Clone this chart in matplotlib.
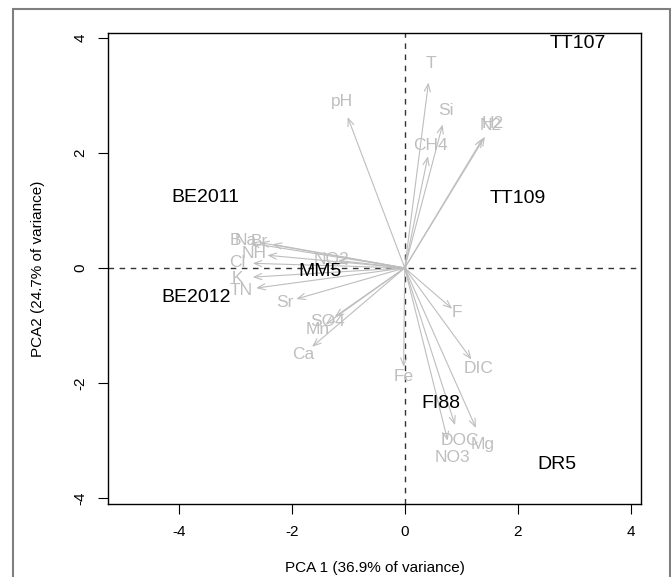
import matplotlib.pyplot as plt
from matplotlib.patches import Rectangle

plt.rcParams['font.family'] = ['Liberation Sans', 'DejaVu Sans']
plt.rcParams['axes.unicode_minus'] = False

# site scores
sites = ["TT107", "TT109", "BE2011", "MM5", "BE2012", "FI88", "DR5"]
site_x = [3.07, 2.00, -3.53, -1.50, -3.69, 0.64, 2.69]
site_y = [3.89, 1.20, 1.23, -0.06, -0.52, -2.36, -3.42]

# variable loadings (arrow tips)
vars_ = ["T", "Si", "CH4", "H2", "N2", "pH", "B", "Na", "Br", "NH", "Cl", "NO2",
         "K", "TN", "Sr", "SO4", "Mn", "Ca", "F", "DIC", "Fe", "DOC", "NO3", "Mg"]
var_x = [0.42, 0.67, 0.41, 1.42, 1.38, -1.01, -2.73, -2.56, -2.34, -2.43, -2.69, -1.18,
         -2.69, -2.63, -1.92, -1.24, -1.40, -1.64, 0.84, 1.18, -0.02, 0.89, 0.76, 1.26]
var_y = [3.22, 2.49, 1.94, 2.28, 2.25, 2.62, 0.43, 0.44, 0.41, 0.22, 0.08, 0.13,
         -0.16, -0.35, -0.54, -0.85, -0.98, -1.37, -0.71, -1.59, -1.72, -2.73, -3.00, -2.78]

grey = "#BEBEBE"

fig = plt.figure(figsize=(6.71, 5.77), dpi=100)
ax = fig.add_axes([108 / 671, 1 - 504 / 577, 533 / 671, 471 / 577])

# outer frame
fig.patches.append(Rectangle((12.5 / 671, -0.05), 657.5 / 671, 1.05 - 9 / 577,
                             transform=fig.transFigure, fill=False,
                             edgecolor="#7f7f7f", lw=1.5))

ax.axhline(0, color="#333333", ls=(0, (4, 4)), lw=1)
ax.axvline(0, color="#333333", ls=(0, (4, 4)), lw=1)

for name, x, y in zip(vars_, var_x, var_y):
    ax.annotate("", xy=(x, y), xytext=(0, 0),
                arrowprops=dict(arrowstyle="->,head_length=0.55,head_width=0.22",
                                color=grey, lw=0.8, shrinkA=0, shrinkB=0))
    ax.text(x * 1.1, y * 1.1, name, color=grey, fontsize=12.5,
            ha="center", va="center")

for name, x, y in zip(sites, site_x, site_y):
    ax.text(x, y, name, color="black", fontsize=14, ha="center", va="center")

ax.set_xlim(-5.25, 4.18)
ax.set_ylim(-4.1, 4.08)
ax.set_xticks([-4, -2, 0, 2, 4])
ax.set_yticks([-4, -2, 0, 2, 4])
ax.tick_params(direction="out", length=7, labelsize=11, pad=8)
for lab in ax.get_yticklabels():
    lab.set_rotation(90)
    lab.set_va("center")
for s in ax.spines.values():
    s.set_linewidth(1)

ax.set_xlabel("PCA 1 (36.9% of variance)", fontsize=11, labelpad=16)
ax.set_ylabel("PCA2 (24.7% of variance)", fontsize=11, labelpad=20)

fig.savefig("out.png", dpi=100)
